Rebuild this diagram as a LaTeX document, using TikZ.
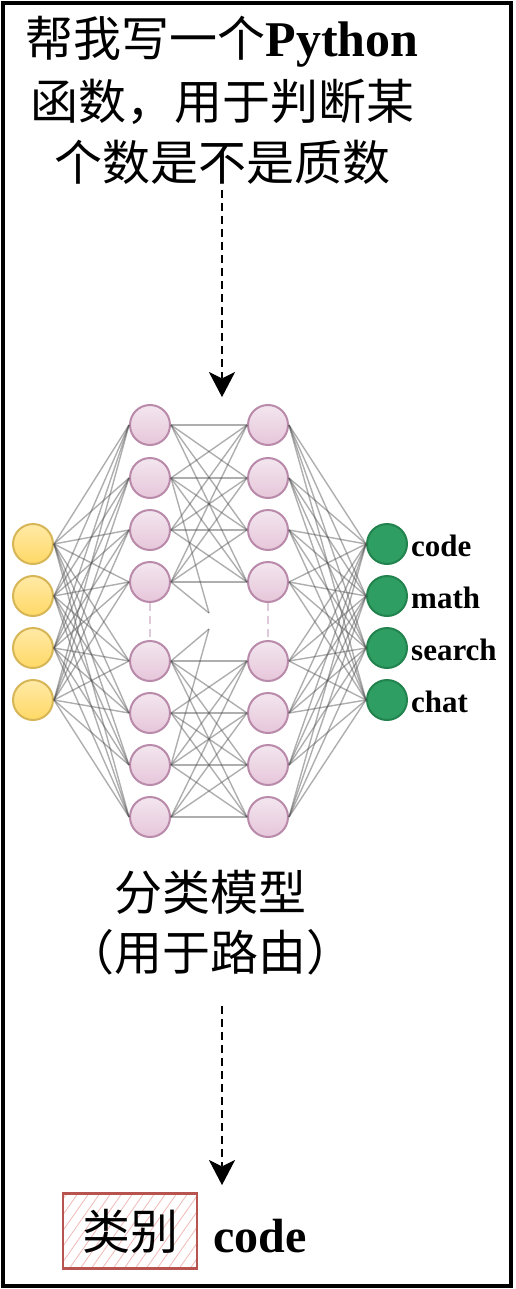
\documentclass[tikz,border=0pt]{standalone}
\usepackage{fontspec}
\setmainfont{Liberation Serif}
\newfontfamily\cjk{Noto Sans CJK SC}
\usetikzlibrary{arrows.meta, patterns.meta, positioning}

\definecolor{yelfill}{HTML}{FFD966}
\definecolor{yeltop}{HTML}{FFE9A6}
\definecolor{yelline}{HTML}{D6B656}
\definecolor{pinkfill}{HTML}{E6C6DA}
\definecolor{pinktop}{HTML}{F3E6EF}
\definecolor{pinkline}{HTML}{B98AAA}
\definecolor{grnfill}{HTML}{2E9E62}
\definecolor{grnline}{HTML}{23834F}
\definecolor{redline}{HTML}{B85450}
\definecolor{redhatch}{HTML}{F0B8B6}

\tikzset{
  yel/.style={circle, minimum size=40pt, inner sep=0pt, line width=2pt,
    draw=yelline, top color=yeltop, bottom color=yelfill},
  pnk/.style={circle, minimum size=40pt, inner sep=0pt, line width=2pt,
    draw=pinkline, top color=pinktop, bottom color=pinkfill},
  grn/.style={circle, minimum size=40pt, inner sep=0pt, line width=2pt,
    draw=grnline, fill=grnfill},
  wire/.style={draw=black!70, opacity=0.45, line width=1.4pt},
  flow/.style={line width=2.6pt, dash pattern=on 8pt off 5pt, shorten >=18pt},
  tip/.style={draw=black, line width=1pt, line join=miter, fill=black},
  big/.style={font=\fontsize{48}{58}\selectfont, inner sep=0pt},
  lab/.style={font=\fontsize{31}{36}\selectfont\bfseries, anchor=west, inner sep=0pt}
}

\begin{document}
\begin{tikzpicture}[x=1pt, y=-1pt]
\useasboundingbox (0,0) rectangle (515,1289);
\draw [line width=4pt] (3,3) rectangle (511,1286);

% question
\node (q1) at (222,42) [big] {{\cjk 帮我写一个}\textbf{\fontsize{50}{58}\selectfont Python}};
\node (q2) at (222,102) [big] {\cjk 函数，用于判断某};
\node (q3) at (222,162) [big] {\cjk 个数是不是质数};

% input layer
\node (in1) at (33,544) [yel] {};
\node (in2) at (33,596) [yel] {};
\node (in3) at (33,648) [yel] {};
\node (in4) at (33,700) [yel] {};

% hidden layers
\node (ha1) at (150,425) [pnk] {};
\node (ha2) at (150,478) [pnk] {};
\node (ha3) at (150,530) [pnk] {};
\node (ha4) at (150,582) [pnk] {};
\node (ha5) at (150,661) [pnk] {};
\node (ha6) at (150,713) [pnk] {};
\node (ha7) at (150,765) [pnk] {};
\node (ha8) at (150,817) [pnk] {};
\node (hb1) at (268,425) [pnk] {};
\node (hb2) at (268,478) [pnk] {};
\node (hb3) at (268,530) [pnk] {};
\node (hb4) at (268,582) [pnk] {};
\node (hb5) at (268,661) [pnk] {};
\node (hb6) at (268,713) [pnk] {};
\node (hb7) at (268,765) [pnk] {};
\node (hb8) at (268,817) [pnk] {};
\coordinate (gapA) at (209,613);
\coordinate (gapB) at (209,629);

% output layer
\node (out1) at (387,544) [grn] {};
\node (out2) at (387,596) [grn] {};
\node (out3) at (387,648) [grn] {};
\node (out4) at (387,700) [grn] {};
\node (l1) at (411,546) [lab] {code};
\node (l2) at (411,598) [lab] {math};
\node (l3) at (411,650) [lab] {search};
\node (l4) at (411,702) [lab] {chat};

% wires
\foreach \i in {1,...,4}
  \foreach \j in {1,...,8}
    \draw [wire] (in\i.east) -- (ha\j.west);
\foreach \i in {1,...,4}
  \foreach \j in {1,...,4} {
    \draw [wire] (ha\i.east) -- (hb\j.west);
    \pgfmathtruncatemacro{\k}{\i+4}
    \pgfmathtruncatemacro{\m}{\j+4}
    \draw [wire] (ha\k.east) -- (hb\m.west);
  }
\draw [wire] (ha2.east) -- (gapA);
\draw [wire] (ha4.east) -- (gapA);
\draw [wire] (ha5.east) -- (gapB);
\draw [wire] (ha7.east) -- (gapB);
\foreach \i in {1,...,8}
  \foreach \j in {1,...,4}
    \draw [wire] (hb\i.east) -- (out\j.west);
\draw [pinkline!45, line width=2pt, dash pattern=on 8pt off 5pt] (ha4.south) -- (ha5.north);
\draw [pinkline!45, line width=2pt, dash pattern=on 8pt off 5pt] (hb4.south) -- (hb5.north);

% model name
\node (m1) at (210,892) [big] {\cjk 分类模型};
\node (m2) at (210,952) [big] {\cjk （用于路由）};

% result
\node (cls) at (130,1231) [big, draw=redline, line width=2.5pt,
  minimum width=134pt, minimum height=75pt,
  pattern={Lines[angle=55,distance=9pt,line width=0.8pt]}, pattern color=redhatch]
  {\cjk 类别};
\node (res) at (213,1236) [big, anchor=west] {\textbf{code}};

% arrows
\coordinate (a1) at (222,190);
\coordinate (a2) at (222,396);
\coordinate (b1) at (222,1006);
\coordinate (b2) at (222,1184);
\draw [flow] (a1) -- (a2);
\draw [flow] (b1) -- (b2);
\filldraw [tip] (a2) -- (210,373) -- (222,379) -- (234,373) -- cycle;
\filldraw [tip] (b2) -- (210,1161) -- (222,1167) -- (234,1161) -- cycle;
\end{tikzpicture}
\end{document}
